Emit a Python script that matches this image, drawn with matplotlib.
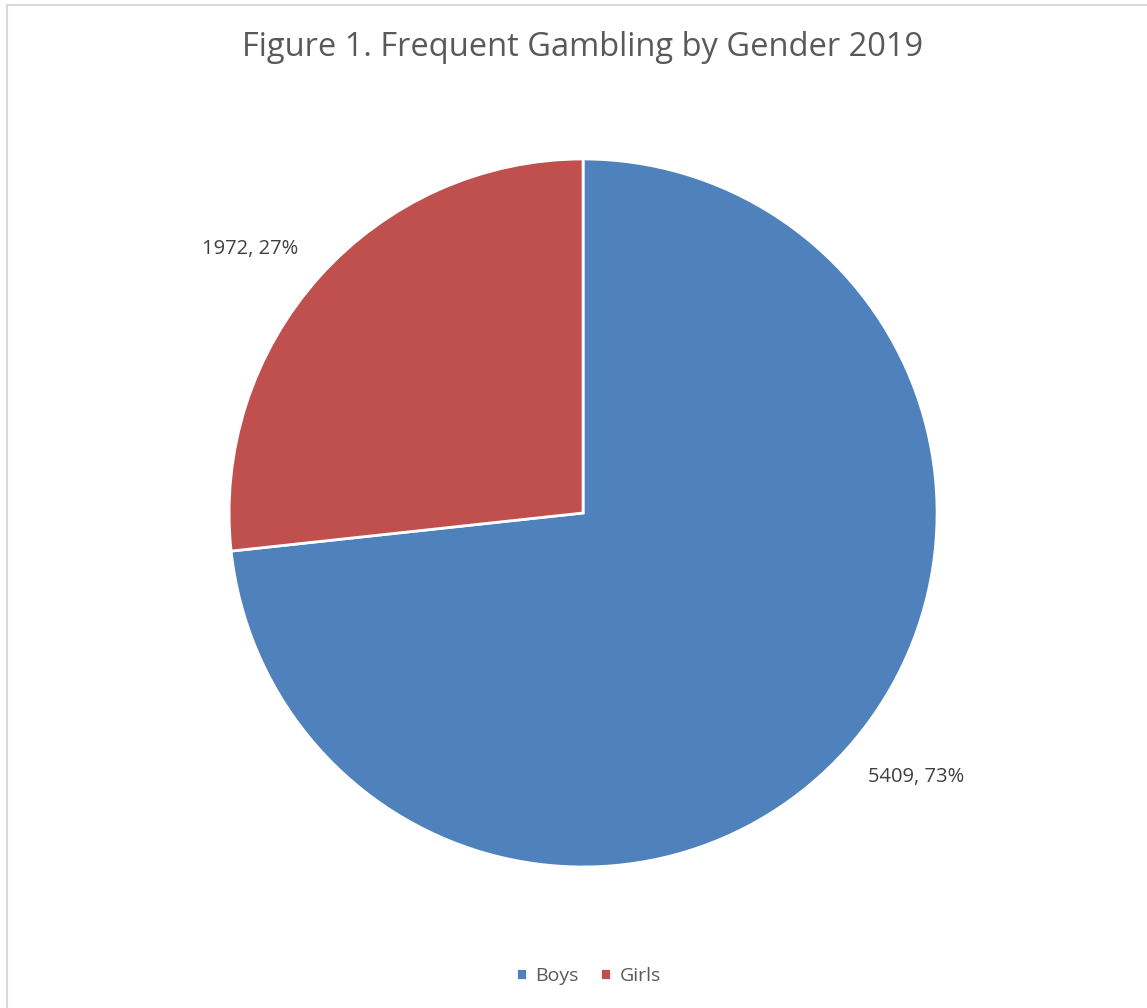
import numpy as np
import matplotlib.pyplot as plt
from matplotlib.patches import Rectangle

labels = ["Boys", "Girls"]
counts = [5409, 1972]
colors = ["#4F81BD", "#C0504D"]

plt.rcParams["font.family"] = ["Open Sans", "DejaVu Sans"]

fig = plt.figure(figsize=(11.47, 10.08), dpi=100)

# light grey chart frame running off the right and bottom edges
fig.patches.append(Rectangle((6.5 / 1147, -0.05), 1.1, 1 - 4.5 / 1008 + 0.05,
                             transform=fig.transFigure, fill=False,
                             edgecolor="#D9D9D9", linewidth=1.5))

ax = fig.add_axes([0.1997, 0.1399, 0.6173, 0.7024])

total = sum(counts)
data_labels = [f"{c}, {round(100 * c / total)}%" for c in counts]

wedges, _ = ax.pie(counts, colors=colors, startangle=90, counterclock=False,
                   wedgeprops=dict(edgecolor="white", linewidth=2))

# data labels placed just outside each wedge, nudged a little anticlockwise
for w, txt in zip(wedges, data_labels):
    ang = np.deg2rad((w.theta1 + w.theta2) / 2 + 3.5)
    ax.text(1.2 * np.cos(ang), 1.2 * np.sin(ang), txt, ha="center", va="center",
            fontsize=14.5, color="#404040")

ax.set_xlim(-1, 1)
ax.set_ylim(-1, 1)
ax.set_aspect("equal")

fig.text(0.508, 1 - 48 / 1008, "Figure 1. Frequent Gambling by Gender 2019",
         ha="center", va="center", fontsize=23.5, color="#595959")

fig.legend(wedges, labels, loc="center", bbox_to_anchor=(0.513, 1 - 976 / 1008),
           ncol=2, frameon=False, fontsize=14, handlelength=0.55, handleheight=0.55,
           handletextpad=0.45, columnspacing=1.1, labelcolor="#595959")

fig.savefig("out.png", dpi=100)
